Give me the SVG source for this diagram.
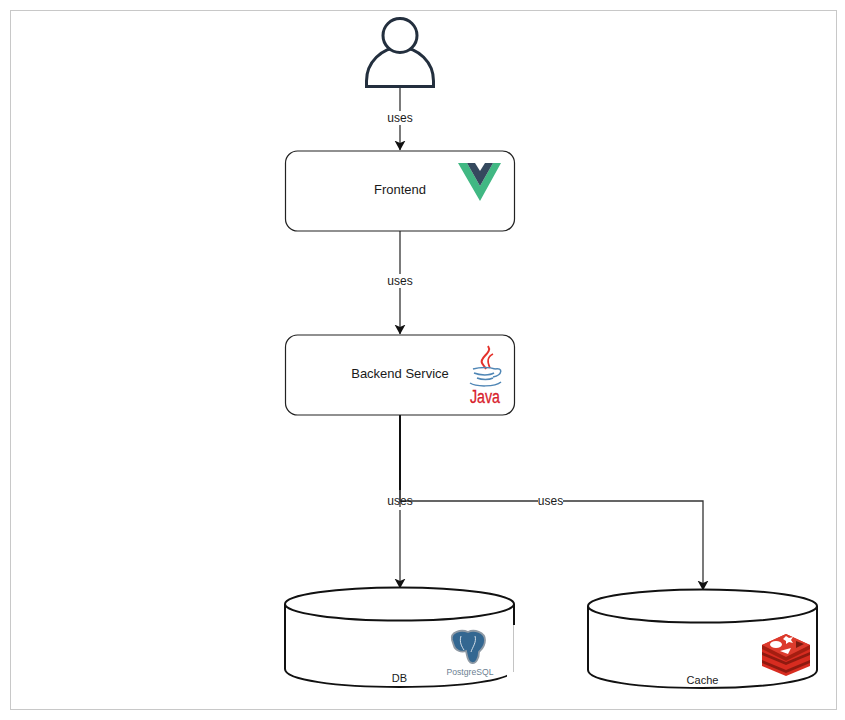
<svg xmlns="http://www.w3.org/2000/svg" width="845" height="720" viewBox="0 0 845 720">
<style>
text{font-family:"Liberation Sans",Arial,sans-serif;font-size:12px;fill:#1a1a1a;text-anchor:middle}
.name{font-size:13px}
.box{fill:#fff;stroke:#222;stroke-width:1.2}
.cyl{fill:#fff;stroke:#111;stroke-width:2}
.con{fill:none;stroke:#333;stroke-width:1.3;marker-end:url(#arr)}
.lab{fill:#fff}
.cup{fill:none;stroke:#4f86b5;stroke-width:1.500}
.flame{fill:none;stroke:#e4312b}
</style>
<defs><marker id="arr" markerUnits="userSpaceOnUse" markerWidth="11" markerHeight="12" refX="9.500" refY="5.500" orient="auto"><path d="M0 0L10 5.500L0 11L2.500 5.500Z" fill="#111"/></marker></defs>
<rect width="845" height="720" fill="#fff"/>
<rect x="10.500" y="10.500" width="826" height="699" fill="#fff" stroke="#c8c8c8"/>
<g id="connectors">
<path class="con" d="M400 87V150"/>
<path class="con" d="M400 231V334"/>
<path class="con" d="M400 415V588"/>
<path class="con" d="M400 415V501H703V590"/>
<path d="M400 415V490" fill="none" stroke="#111" stroke-width="2"/>
<rect class="lab" x="387" y="111" width="26" height="14"/>
<rect class="lab" x="387" y="274" width="26" height="14"/>
<rect class="lab" x="538" y="495" width="25" height="13"/>
<rect class="lab" x="398" y="507" width="4" height="3"/>
<text x="400" y="122">uses</text>
<text x="400" y="285">uses</text>
<text x="400" y="505">uses</text>
<text x="550.500" y="505">uses</text>
</g>
<g id="user" fill="#fff" stroke="#232f3e" stroke-width="3">
<path d="M366.500 86.500V81A33.500 33.500 0 0 1 433.500 81V86.500Z"/>
<circle cx="400" cy="35.500" r="17"/>
</g>
<g id="frontend">
<rect class="box" x="285.500" y="151" width="229" height="80" rx="12"/>
<text class="name" x="400" y="194">Frontend</text>
<path d="M458 163H467L480 186L493 163H501L480 201Z" fill="#41b883"/>
<path d="M467 163H475L480 171L485 163H493L480 186Z" fill="#35495e"/>
</g>
<g id="backend">
<rect class="box" x="285.500" y="335" width="229" height="80" rx="12"/>
<text class="name" x="400" y="378">Backend Service</text>
<path class="flame" stroke-width="2" d="M488 346C493 353 479 357 482 363C483 365 485 367 486 369"/>
<path class="flame" stroke-width="1.600" d="M493 354C487 357 487 362 490 368"/>
<path class="cup" d="M473 369C480 367 490 367 495 369M474 373C480 375.500 490 375.500 494 373M477 378C482 380 489 380 493 378"/>
<path class="cup" stroke-width="1.200" d="M495 369C503 367 503 375 493 377"/>
<path class="cup" d="M470 383C476 387 495 387 501 382"/>
<text x="485" y="403" style="font-size:18px;fill:#d8212b;stroke:#d8212b;stroke-width:.3" textLength="30" lengthAdjust="spacingAndGlyphs">Java</text>
</g>
<g id="db">
<path class="cyl" d="M285 604V669C285 680 336 687 399.500 687C463 687 514 680 514 669V604"/>
<ellipse class="cyl" cx="399.500" cy="604" rx="114.500" ry="16.500"/>
<rect x="507" y="625" width="11" height="52" fill="#fff"/>
<path d="M513.500 625V672" stroke="#c4c4c4" stroke-width="1"/>
<path d="M452 640C450 632 461 629 468 632C474 629 485 632 485 640C485 648 480 650 479 652C479 658 476 664 472 663C467 663 467 654 466 651C461 653 455 650 454 646Z" fill="#336791" stroke="#8f9aa5" stroke-width="1.800"/>
<path d="M461 636C459 642 462 647 464 650M475 636C477 642 472 648 471 652" fill="none" stroke="#d5dfe8" stroke-width="1"/>
<text x="470" y="675" style="font-size:9px;fill:#6d7f92" textLength="47" lengthAdjust="spacingAndGlyphs">PostgreSQL</text>
<text x="399.500" y="682" style="font-size:11px">DB</text>
</g>
<g id="cache">
<path class="cyl" d="M588 606V670C588 681 639 688 702.500 688C766 688 817 681 817 670V606"/>
<ellipse class="cyl" cx="702.500" cy="606" rx="114.500" ry="16.500"/>
<path d="M762 645V666L786 676L810 666V645L786 634Z" fill="#d82c20"/>
<path d="M762 652V655L786 665L810 655V652L786 662ZM762 660V663L786 673L810 663V660L786 670Z" fill="#8f1a10"/>
<path d="M762 645L786 634L810 645L786 657Z" fill="#dc3a2c"/>
<path d="M762 645V649L786 661L810 649V645L786 657Z" fill="#a41e11"/>
<ellipse cx="776" cy="644.500" rx="6" ry="3.500" fill="#fff"/>
<path d="M786 636L789 638L793 637L791 640L793 643L789 642L786 644L786 641L783 639Z" fill="#fff"/>
<path d="M780 651L791 648L788 654Z" fill="#fff"/>
<path d="M796 641L804 644L796 648Z" fill="#7a1a10"/>
<text x="702.500" y="684" style="font-size:11px">Cache</text>
</g>
</svg>
